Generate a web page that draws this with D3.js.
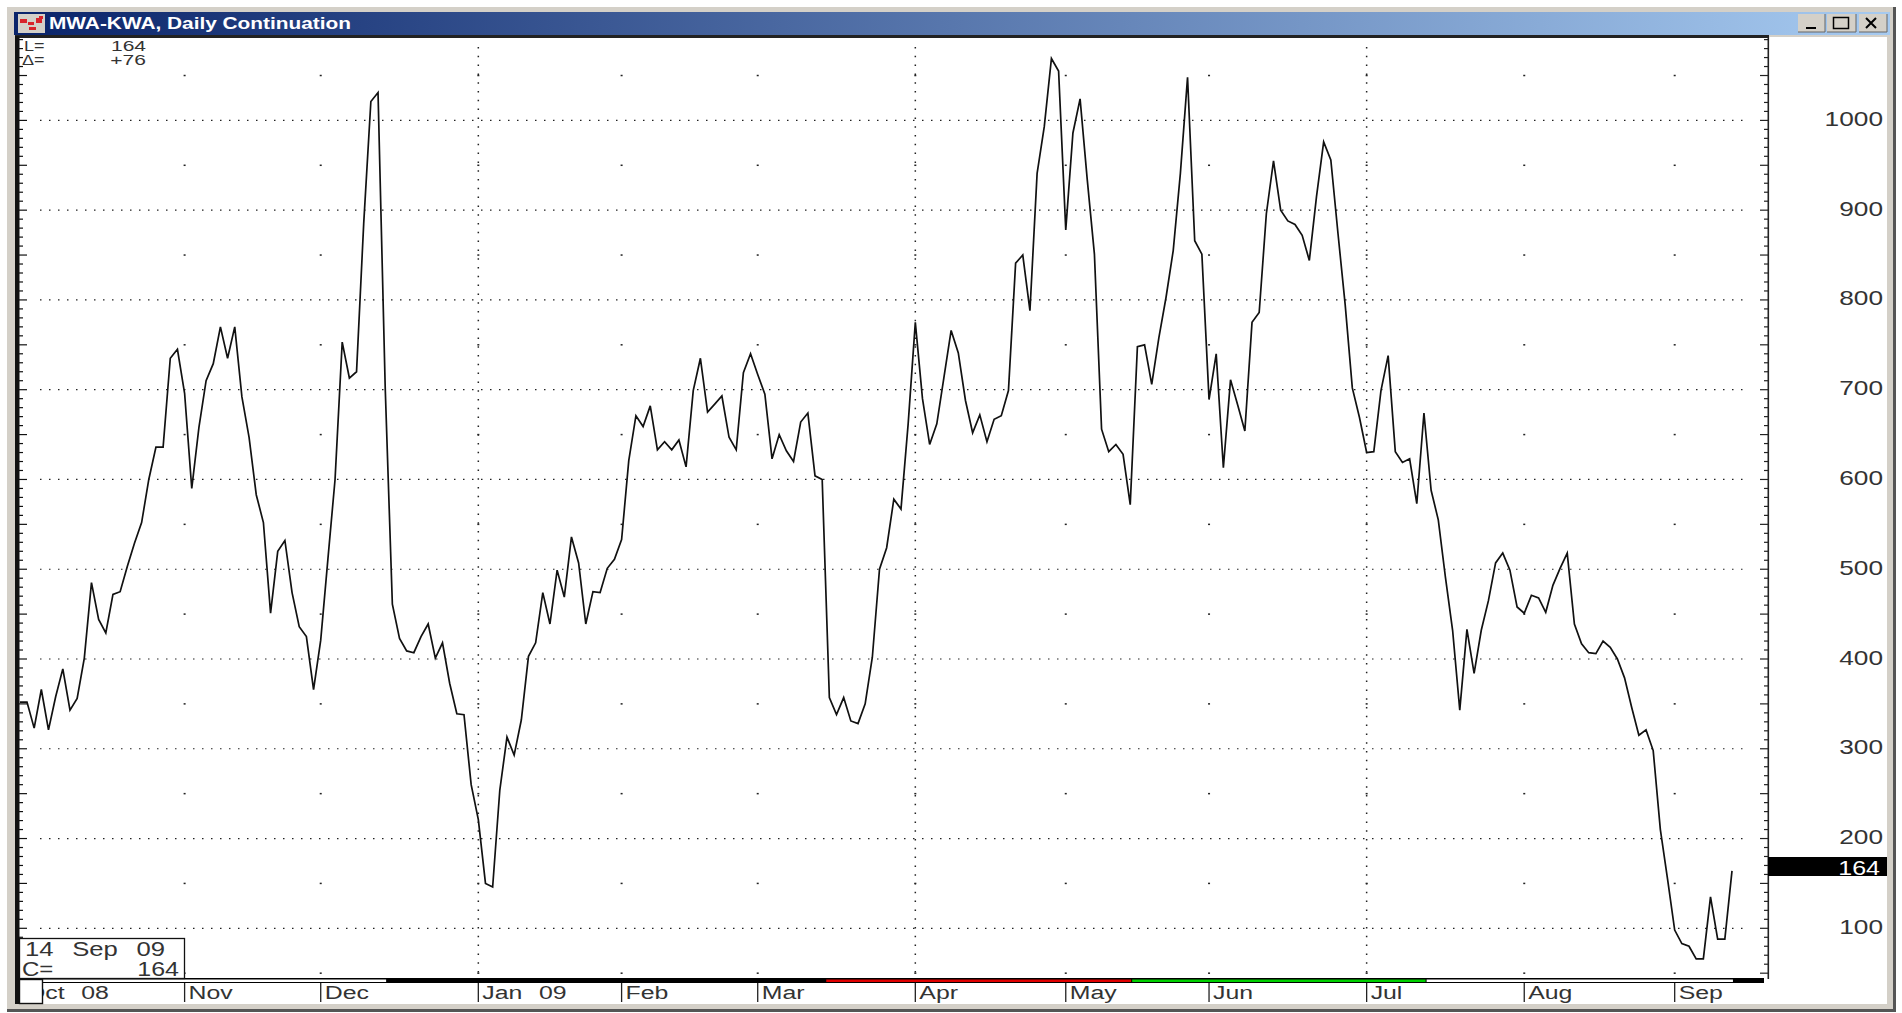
<!DOCTYPE html>
<html><head><meta charset="utf-8">
<style>html,body{margin:0;padding:0;background:#fff;overflow:hidden}svg{display:block}text{font-family:"Liberation Sans",Arial,sans-serif}</style>
<script src="https://cdn.jsdelivr.net/npm/d3@7"></script>
</head><body>
<script>
const title = "MWA-KWA, Daily Continuation";
const priceTicks = [100,200,300,400,500,600,700,800,900,1000];
const lastClose = 164;
const monthLabels = ["Oct 08","Nov","Dec","Jan 09","Feb","Mar","Apr","May","Jun","Jul","Aug","Sep"];
const monthStartDay = [null,22,41,63,83,102,124,145,165,187,209,230];
const quarterMonths = ["Jan 09","Apr","Jul"];
const firstDay = -1;
const closes = [352,352,323,366,321,358,389,343,356,401,485,444,429,472,475,503,529,552,600,636,636,735,745,696,590,658,710,729,770,735,770,692,647,583,552,451,520,532,474,436,425,366,421,511,600,753,713,720,885,1021,1031,703,461,423,409,407,425,439,401,418,373,339,338,260,221,150,146,254,313,293,332,403,418,474,439,499,469,536,507,439,475,474,501,511,533,621,671,659,682,633,642,633,644,614,699,735,675,684,693,647,633,719,740,717,695,623,650,632,620,664,674,604,600,357,338,357,331,328,350,402,500,524,578,567,662,775,690,639,662,714,766,741,688,652,672,642,667,671,699,841,850,788,941,993,1069,1055,878,986,1024,934,851,656,631,639,628,572,748,750,706,758,803,855,941,1048,866,851,689,740,613,711,683,654,775,786,896,955,900,888,884,872,844,915,976,956,874,795,702,669,630,631,699,738,631,619,623,573,674,588,555,491,432,343,433,384,432,465,507,518,499,458,451,471,468,452,482,501,518,439,417,407,406,420,413,400,379,346,315,321,298,210,155,98,83,80,66,66,135,88,88,164];
const stripDays = [2.1,50.2,111.5,154.2,195.3,238.2,242.3];
const stripColors = ["#ffffff","#000000","#e00000","#00d000","#ffffff","#000000"];

const W=1902,H=1013;
const x=d3.scaleLinear().domain([0,238]).range([27,1732]);
const y=d3.scaleLinear().domain([100,1000]).range([928.3,120.4]);
const svg=d3.select("body").append("svg").attr("width",W).attr("height",H);
const defs=svg.append("defs");
const g=defs.append("linearGradient").attr("id","tb");
g.append("stop").attr("offset","0").attr("stop-color","#0a246a");
g.append("stop").attr("offset","1").attr("stop-color","#a6caf0");

// window
svg.append("rect").attr("x",7).attr("y",7).attr("width",1889).attr("height",1005).attr("fill","#555");
svg.append("rect").attr("x",7).attr("y",7).attr("width",1886).attr("height",1002).attr("fill","#d4d0c8");
svg.append("rect").attr("x",16).attr("y",37).attr("width",1871).attr("height",967).attr("fill","#fff");
svg.append("rect").attr("x",14).attr("y",12).attr("width",1876).attr("height",23).attr("fill","url(#tb)");
svg.append("rect").attr("x",15).attr("y",35).attr("width",1754).attr("height",3).attr("fill","#222");
// icon
svg.append("rect").attr("x",18).attr("y",14).attr("width",27).attr("height",19).attr("fill","#d4d0c8");
[[20,19,7,4],[28,22,6,3],[36,18,6,5],[29,27,7,3],[39,16,4,3]].forEach(r=>svg.append("rect").attr("x",r[0]).attr("y",r[1]).attr("width",r[2]).attr("height",r[3]).attr("fill","#d8232a"));
svg.append("text").attr("x",49).attr("y",29).attr("fill","#fff").attr("font-weight","bold").attr("font-size",16).attr("textLength",302).attr("lengthAdjust","spacingAndGlyphs").text(title);
// buttons
[[1798,27],[1827,29],[1859,28]].forEach(b=>{
  svg.append("rect").attr("x",b[0]).attr("y",14).attr("width",b[1]).attr("height",18).attr("fill","#d4d0c8");
  svg.append("path").attr("d",`M${b[0]} 32H${b[0]+b[1]}V14`).attr("fill","none").attr("stroke","#666");
});
svg.append("rect").attr("x",1806).attr("y",27).attr("width",10).attr("height",2).attr("fill","#000");
svg.append("rect").attr("x",1833.5).attr("y",17.5).attr("width",15).attr("height",11).attr("fill","none").attr("stroke","#000").attr("stroke-width",1.5);
svg.append("path").attr("d","M1866 18L1876 28M1876 18L1866 28").attr("stroke","#000").attr("stroke-width",2);

const plot=svg.append("g");
// horizontal dotted grid
plot.selectAll("line.h").data(priceTicks).join("line").attr("class","h")
 .attr("x1",40).attr("x2",1748).attr("y1",d=>y(d)).attr("y2",d=>y(d))
 .attr("stroke","#222").attr("stroke-width",1.2).attr("stroke-dasharray","1.5 7.5");
// vertical dotted grid
const monthIdx=monthLabels.map((m,i)=>i).filter(i=>monthStartDay[i]!==null);
plot.selectAll("line.v").data(quarterMonths).join("line").attr("class","v")
 .attr("x1",d=>x(monthStartDay[monthLabels.indexOf(d)])).attr("x2",d=>x(monthStartDay[monthLabels.indexOf(d)]))
 .attr("y1",47).attr("y2",977)
 .attr("stroke","#222").attr("stroke-width",1.5).attr("stroke-dasharray","1.5 7.3");
// dots at half-hundreds
const halfLevels=d3.range(50,1100,100);
monthIdx.forEach(i=>{
  plot.selectAll(null).data(halfLevels).join("rect")
   .attr("x",x(monthStartDay[i])-1).attr("y",d=>y(d)-.75).attr("width",2).attr("height",1.5).attr("fill","#222");
});
// price line
const line=d3.line().x((d,i)=>x(i+firstDay)).y(d=>y(d));
plot.append("path").attr("d",line(closes)).attr("fill","none").attr("stroke","#111").attr("stroke-width",1.7).attr("stroke-linejoin","miter");

// left & right axis with ticks
const tickVals=d3.range(50,1100,10);
const isMajor=v=>v%50===0;
svg.append("rect").attr("x",15).attr("y",36).attr("width",4.5).attr("height",968).attr("fill","#111");
svg.selectAll("line.lt").data(tickVals).join("line").attr("class","lt")
 .attr("x1",19).attr("x2",d=>isMajor(d)?27:23).attr("y1",d=>y(d)).attr("y2",d=>y(d)).attr("stroke","#111").attr("stroke-width",1.2);
svg.append("rect").attr("x",1767.5).attr("y",37).attr("width",1.6).attr("height",942).attr("fill","#222");
svg.selectAll("line.rt").data(tickVals).join("line").attr("class","rt")
 .attr("x1",1768).attr("x2",d=>isMajor(d)?1760:1764).attr("y1",d=>y(d)).attr("y2",d=>y(d)).attr("stroke","#222").attr("stroke-width",1.2);

function stretched(sel,k){sel.each(function(){const l=this.getComputedTextLength();d3.select(this).attr("textLength",l*k).attr("lengthAdjust","spacingAndGlyphs");});return sel;}
// price labels
stretched(svg.selectAll("text.yl").data(priceTicks).join("text").attr("class","yl")
 .attr("x",1883).attr("y",d=>y(d)+5.5).attr("text-anchor","end").attr("font-size",21).attr("fill","#333").text(d=>d),1.25);
// last value tag
svg.append("rect").attr("x",1768).attr("y",857).attr("width",119).attr("height",19).attr("fill","#000");
stretched(svg.append("text").attr("x",1880).attr("y",874.5).attr("text-anchor","end").attr("font-size",20).attr("fill","#fff").text(lastClose),1.25);

// date strip
const strip=svg.append("g");
strip.append("rect").attr("x",19).attr("y",978).attr("width",1745).attr("height",5).attr("fill","#000");
strip.selectAll("rect.s").data(stripColors).join("rect").attr("class","s")
 .attr("x",(d,i)=>x(stripDays[i])+.5).attr("y",979.5).attr("width",(d,i)=>x(stripDays[i+1])-x(stripDays[i])-1).attr("height",2.5).attr("fill",d=>d);
// month ticks + labels
svg.selectAll("line.mt").data(monthIdx).join("line").attr("class","mt")
 .attr("x1",i=>x(monthStartDay[i])).attr("x2",i=>x(monthStartDay[i])).attr("y1",983).attr("y2",1002).attr("stroke","#222").attr("stroke-width",1.3);
stretched(svg.selectAll("text.ml").data(monthLabels).join("text").attr("class","ml")
 .attr("x",(d,i)=>monthStartDay[i]===null?26:x(monthStartDay[i])+4).attr("y",999).attr("font-size",18).attr("fill","#333").attr("word-spacing",7).text(d=>d),1.38);
svg.append("rect").attr("x",19.5).attr("y",979.5).attr("width",23).attr("height",24).attr("fill","#fff").attr("stroke","#111").attr("stroke-width",1.4);

// readout top-left
const info=svg.append("g").attr("font-size",15).attr("fill","#333");
[["L=",24,51],["\u0394=",22,65]].forEach(t=>stretched(info.append("text").attr("x",t[1]).attr("y",t[2]).text(t[0]),1.2));
[[String(lastClose),146,51],["+76",146,65]].forEach(t=>stretched(info.append("text").attr("x",t[1]).attr("y",t[2]).attr("text-anchor","end").text(t[0]),1.4));
// date box
svg.append("rect").attr("x",19.5).attr("y",938.5).attr("width",165).attr("height",40).attr("fill","#fff").attr("stroke","#111").attr("stroke-width",1.3);
const box=svg.append("g").attr("font-size",20).attr("fill","#333");
box.append("text").attr("x",25).attr("y",956).attr("word-spacing",9).attr("textLength",140).attr("lengthAdjust","spacingAndGlyphs").text("14 Sep 09");
stretched(box.append("text").attr("x",22).attr("y",976).text("C="),1.2);
stretched(box.append("text").attr("x",179).attr("y",976).attr("text-anchor","end").text(lastClose),1.25);
</script>
</body></html>
